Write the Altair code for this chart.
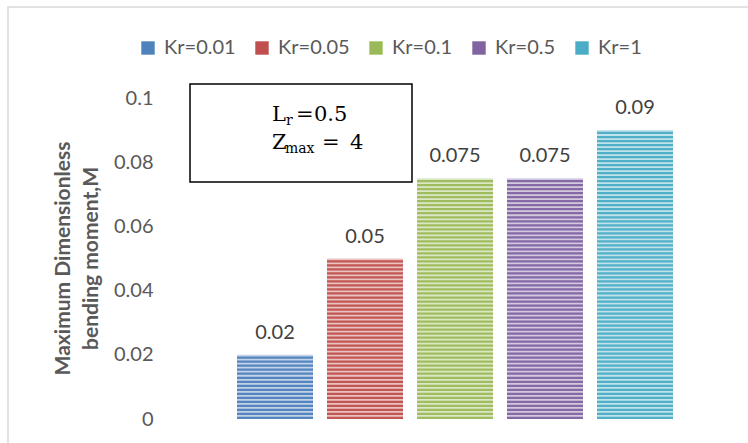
import altair as alt
import pandas as pd

categories = ["Kr=0.01", "Kr=0.05", "Kr=0.1", "Kr=0.5", "Kr=1"]
values = [0.02, 0.05, 0.075, 0.075, 0.09]
colors = ["#4f81bd", "#c0504d", "#9bbb59", "#8064a2", "#4bacc6"]
y_ticks = [0, 0.02, 0.04, 0.06, 0.08, 0.1]
y_title = ["Maximum Dimensionless", "bending moment,M"]

df = pd.DataFrame({"cat": categories, "value": values})
one = pd.DataFrame({"a": [0]})

FONT = "Lato"
GRAY = "#595959"

x_enc = alt.X("cat:N", sort=categories, axis=None,
              scale=alt.Scale(paddingInner=14 / 90, paddingOuter=7 / 90))
y_scale = alt.Scale(domain=[0, 0.1], nice=False, zero=True)
color_enc = alt.Color("cat:N", sort=categories,
                      scale=alt.Scale(domain=categories, range=colors),
                      legend=alt.Legend(title=None, orient="none", direction="horizontal",
                                        columns=5, legendX=-92, legendY=-60,
                                        symbolType="square", symbolSize=180,
                                        symbolStrokeWidth=0, symbolOpacity=1,
                                        labelFont=FONT, labelFontSize=20, labelColor=GRAY,
                                        labelOffset=6, columnPadding=16))

frame = alt.Chart(one).mark_rect(filled=False, stroke="#d9d9d9", strokeWidth=1.5).encode(
    x=alt.value(-222), x2=alt.value(700), y=alt.value(-91), y2=alt.value(500))

base = alt.Chart(df).mark_bar(opacity=0.35).encode(
    x=x_enc,
    y=alt.Y("value:Q", scale=y_scale,
            axis=alt.Axis(values=y_ticks, format="~g", domain=False, ticks=False, grid=False,
                          labelFont=FONT, labelFontSize=20, labelColor=GRAY, labelPadding=77,
                          title=y_title, titleFont=FONT, titleFontSize=21,
                          titleFontWeight="bold", titleColor=GRAY, titleLineHeight=28,
                          titleAngle=-90, titleX=-178, titleY=160, titleAlign="center",
                          titleBaseline="top")),
    color=color_enc,
)

stripes = alt.Chart(df).transform_calculate(
    s="sequence(0, datum.value - 0.0003, 0.00125)"
).transform_flatten(["s"]).transform_calculate(
    s2="datum.s + 0.0007"
).mark_bar(opacity=0.95).encode(
    x=x_enc,
    y=alt.Y("s:Q", scale=y_scale),
    y2="s2:Q",
    color=color_enc,
)

labels = alt.Chart(df).mark_text(font=FONT, fontSize=20, color="#404040", dy=-16,
                                 baseline="alphabetic").encode(
    x=x_enc, y=alt.Y("value:Q", scale=y_scale), text=alt.Text("value:Q", format="~g"))

box = alt.Chart(one).mark_rect(fill="white", stroke="black", strokeWidth=1.5).encode(
    x=alt.value(-40), x2=alt.value(182), y=alt.value(-14), y2=alt.value(84))

SERIF = "DejaVu Serif"
def t(txt, x, y, size=21):
    return alt.Chart(one).mark_text(font=SERIF, fontSize=size, color="black", align="left",
                                    baseline="alphabetic").encode(
        x=alt.value(x), y=alt.value(y), text=alt.value(txt))

box_text = [
    t("L", 42, 23), t("r", 56, 27, 14), t("=", 66, 23), t("0.5", 84, 23),
    t("Z", 42, 51), t("max", 55, 55, 14), t("=", 92, 51), t("4", 120, 51),
]

chart = alt.layer(frame, base, stripes, labels, box, *box_text).properties(
    width=450, height=321,
    autosize=alt.AutoSizeParams(type="none"),
    padding={"left": 230, "top": 98, "right": 68, "bottom": 24},
).configure_view(stroke=None).configure_legend(padding=0)

chart.save("out.html", embed_options={"renderer": "svg", "actions": False})
